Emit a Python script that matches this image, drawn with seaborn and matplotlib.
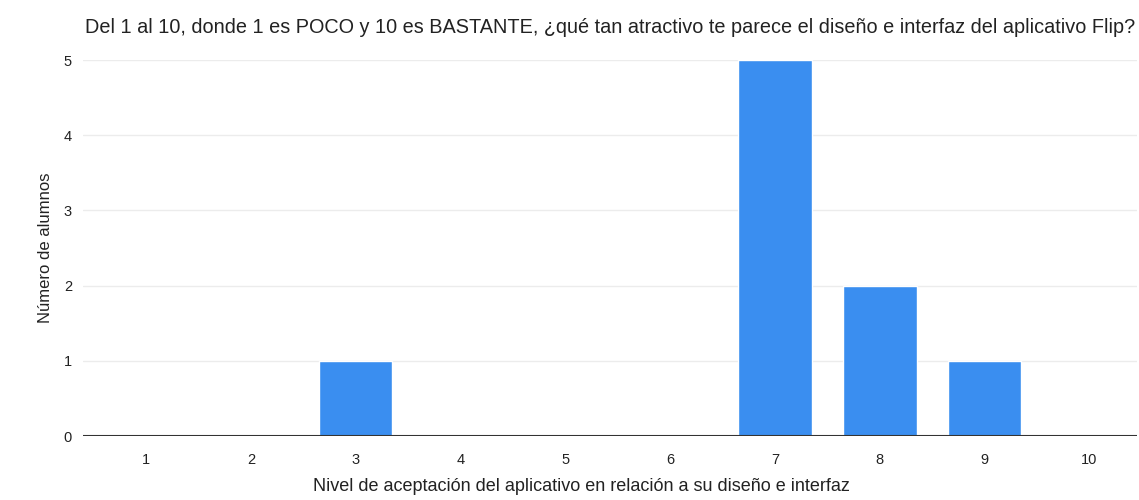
import matplotlib
matplotlib.use("Agg")
import matplotlib.pyplot as plt
import seaborn as sns
import pandas as pd

niveles = ["1", "2", "3", "4", "5", "6", "7", "8", "9", "10"]
alumnos = [0, 0, 1, 0, 0, 0, 5, 2, 1, 0]
y_ticks = [0, 1, 2, 3, 4, 5]

titulo = "Del 1 al 10, donde 1 es POCO y 10 es BASTANTE, ¿qué tan atractivo te parece el diseño e interfaz del aplicativo Flip?"
etiqueta_x = "Nivel de aceptación del aplicativo en relación a su diseño e interfaz"
etiqueta_y = "Número de alumnos"

sns.set_theme(style="white")
plt.rcParams["font.family"] = ["Liberation Sans", "DejaVu Sans"]

df = pd.DataFrame({"nivel": niveles, "alumnos": alumnos})

fig = plt.figure(figsize=(11.39, 5.0), dpi=100)
ax = fig.add_axes([0.073, 0.128, 0.925, 0.752])

for t in y_ticks[1:]:
    ax.axhline(t, color="#ececec", linewidth=1.0, zorder=0)

sns.barplot(data=df, x="nivel", y="alumnos", order=niveles, color="#3a8ef0",
            saturation=1, width=0.7, ax=ax, zorder=2)

ax.axhline(0, color="#333333", linewidth=1.5, zorder=3)
ax.set_xlim(-0.6, 9.45)
ax.set_ylim(0, 5)
ax.set_yticks(y_ticks)
ax.tick_params(axis="both", length=0, labelsize=10.5, colors="#222222")
ax.tick_params(axis="x", pad=12)
ax.tick_params(axis="y", pad=8)
for s in ax.spines.values():
    s.set_visible(False)

ax.set_xlabel(etiqueta_x, fontsize=13, color="#222222", labelpad=8)
ax.xaxis.label.set_x(0.473)
ax.set_ylabel(etiqueta_y, fontsize=12, color="#222222", labelpad=8)
fig.text(0.075, 0.945, titulo, fontsize=14.3, color="#222222", ha="left", va="center")

fig.savefig("out.png", dpi=100, facecolor="white")
